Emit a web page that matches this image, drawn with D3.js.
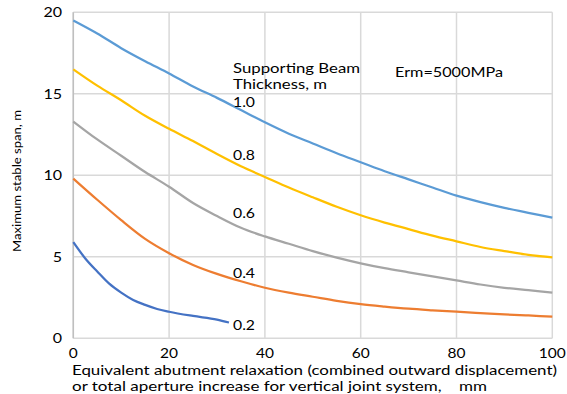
<!DOCTYPE html>
<html lang="en">
<head>
<meta charset="utf-8">
<title>Maximum stable span vs abutment relaxation</title>
<script src="https://d3js.org/d3.v7.min.js"></script>
<style>
  body { margin: 0; background: #fff; }
  text { font-family: Lato, "Open Sans", sans-serif; fill: #000; }
</style>
</head>
<body>
<script>
// displacement (mm) sample points
var xs = [0, 5, 10, 15, 20, 25, 30, 35, 40, 45, 50, 55, 60, 65, 70, 75, 80, 85, 90, 95, 100];
var span10 = [19.5, 18.7, 17.8, 17.0, 16.25, 15.45, 14.75, 14.0, 13.25, 12.55, 11.95, 11.35, 10.8, 10.25, 9.75, 9.25, 8.75, 8.35, 8.0, 7.7, 7.4];
var span08 = [16.5, 15.5, 14.6, 13.65, 12.85, 12.1, 11.3, 10.55, 9.9, 9.25, 8.65, 8.07, 7.55, 7.1, 6.7, 6.3, 5.95, 5.6, 5.35, 5.12, 4.97];
var span06 = [13.3, 12.2, 11.2, 10.2, 9.3, 8.3, 7.5, 6.78, 6.25, 5.8, 5.35, 4.95, 4.6, 4.3, 4.05, 3.8, 3.55, 3.3, 3.1, 2.95, 2.8];
var span04 = [9.8, 8.5, 7.25, 6.1, 5.22, 4.5, 3.95, 3.5, 3.1, 2.8, 2.55, 2.3, 2.1, 1.95, 1.82, 1.72, 1.63, 1.55, 1.47, 1.4, 1.33];
// thinnest beam only runs to ~32 mm
var xs02 = [0, 2.5, 5, 7.5, 10, 12.5, 15, 17.5, 20, 25, 30, 32.5];
var span02 = [5.9, 4.9, 4.1, 3.35, 2.8, 2.35, 2.05, 1.8, 1.63, 1.37, 1.15, 0.97];

var thickness = ["1.0", "0.8", "0.6", "0.4", "0.2"];
var colors = ["#5b9bd5", "#ffc000", "#a5a5a5", "#ed7d31", "#4472c4"];
var xTicks = [0, 20, 40, 60, 80, 100];
var yTicks = [0, 5, 10, 15, 20];

var width = 567, height = 394;
var margin = {left: 73.3, right: 14.7, top: 12.3, bottom: 55.7};

var svg = d3.select("body").append("svg")
    .attr("width", width)
    .attr("height", height);

var x = d3.scaleLinear().domain([0, 100]).range([margin.left, width - margin.right]);
var y = d3.scaleLinear().domain([0, 20]).range([height - margin.bottom, margin.top]);

// the original text is a bit wider than Lato, so stretch it to the measured width
function fit(sel, w) {
  sel.attr("textLength", w).attr("lengthAdjust", "spacingAndGlyphs");
  return sel;
}

// gridlines
svg.append("g").selectAll("line").data(xTicks).enter().append("line")
    .attr("x1", function(d) { return x(d); })
    .attr("x2", function(d) { return x(d); })
    .attr("y1", y(0)).attr("y2", y(20))
    .attr("stroke", "#d9d9d9").attr("stroke-width", 1.5);
svg.append("g").selectAll("line").data(yTicks).enter().append("line")
    .attr("x1", x(0)).attr("x2", x(100))
    .attr("y1", function(d) { return y(d); })
    .attr("y2", function(d) { return y(d); })
    .attr("stroke", "#d9d9d9").attr("stroke-width", 1.5);
svg.append("line")
    .attr("x1", x(0)).attr("x2", x(0)).attr("y1", y(0)).attr("y2", y(20))
    .attr("stroke", "#bfbfbf").attr("stroke-width", 1.5);

// tick labels
svg.append("g").selectAll("text").data(xTicks).enter().append("text")
    .attr("x", function(d) { return x(d); })
    .attr("y", 358)
    .attr("text-anchor", "middle")
    .style("font-size", "13.5px")
    .attr("textLength", function(d) { return String(d).length * 9; })
    .attr("lengthAdjust", "spacingAndGlyphs")
    .text(function(d) { return d; });
svg.append("g").selectAll("text").data(yTicks).enter().append("text")
    .attr("x", 62)
    .attr("y", function(d) { return y(d) + 5; })
    .attr("text-anchor", "end")
    .style("font-size", "13.5px")
    .attr("textLength", function(d) { return String(d).length * 9.3; })
    .attr("lengthAdjust", "spacingAndGlyphs")
    .text(function(d) { return d; });

// axis titles
fit(svg.append("text").attr("x", 72).attr("y", 375)
    .style("font-size", "13.5px")
    .text("Equivalent abutment relaxation (combined outward displacement)"), 485);
fit(svg.append("text").attr("x", 72).attr("y", 391)
    .attr("xml:space", "preserve")
    .style("font-size", "13.5px")
    .text("or total aperture increase for vertical joint system,    mm"), 415);

fit(svg.append("text")
    .attr("transform", "translate(21,181) rotate(-90)")
    .attr("text-anchor", "middle")
    .style("font-size", "12px")
    .text("Maximum stable span, m"), 142);

// curves
var line = d3.line()
    .x(function(d) { return x(d[0]); })
    .y(function(d) { return y(d[1]); })
    .curve(d3.curveMonotoneX);

var series = [
  d3.zip(xs, span10),
  d3.zip(xs, span08),
  d3.zip(xs, span06),
  d3.zip(xs, span04),
  d3.zip(xs02, span02)
];

svg.append("g").selectAll("path").data(series).enter().append("path")
    .attr("d", line)
    .attr("fill", "none")
    .attr("stroke", function(d, i) { return colors[i]; })
    .attr("stroke-width", 2.25);

// labels inside the plot
var labelY = [107, 160, 218, 278, 330];
svg.append("g").selectAll("text").data(thickness).enter().append("text")
    .attr("x", 233)
    .attr("y", function(d, i) { return labelY[i]; })
    .style("font-size", "13.5px")
    .attr("textLength", 22)
    .attr("lengthAdjust", "spacingAndGlyphs")
    .text(function(d) { return d; });

fit(svg.append("text").attr("x", 233).attr("y", 73)
    .style("font-size", "13.5px").text("Supporting Beam"), 127);
fit(svg.append("text").attr("x", 233).attr("y", 89)
    .style("font-size", "13.5px").text("Thickness, m"), 94);
fit(svg.append("text").attr("x", 395).attr("y", 77)
    .style("font-size", "13.5px").text("Erm=5000MPa"), 108);
</script>
</body>
</html>
